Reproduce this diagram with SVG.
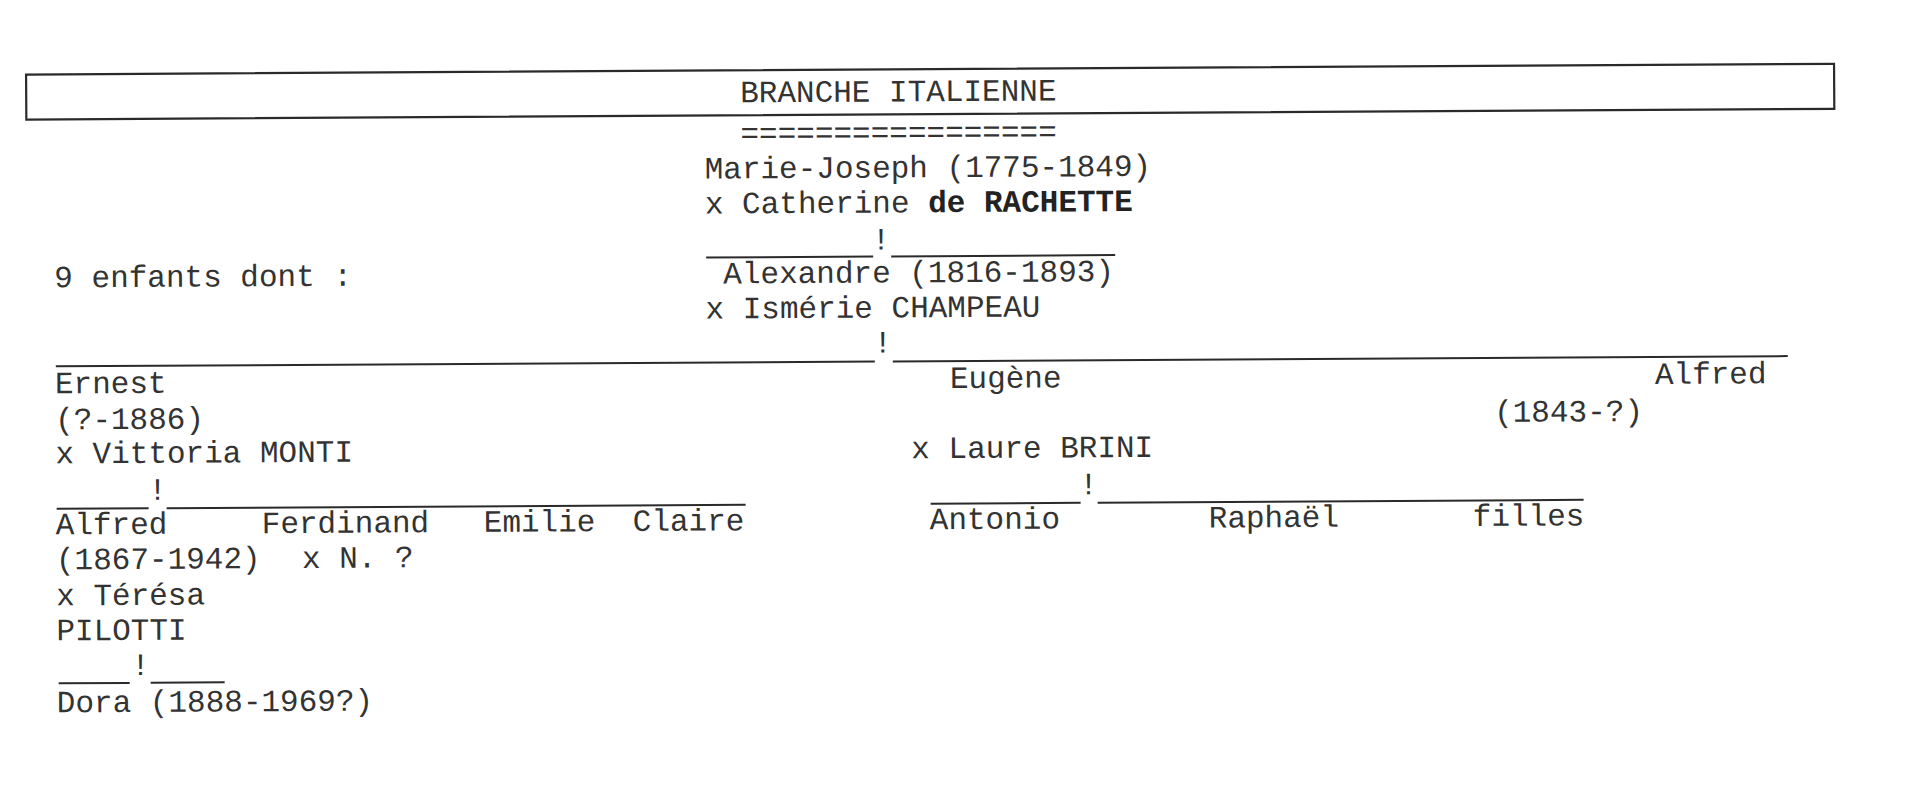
<svg xmlns="http://www.w3.org/2000/svg" width="1920" height="792" viewBox="0 0 1920 792">
<style>
  text { font-family: "Liberation Mono", "Courier New", monospace; font-size: 31px; fill: #333; }
  .b { font-weight: bold; fill: #222; }
  .bang { text-anchor: middle; }
  .ln { stroke: #2a2a2a; stroke-width: 2; fill: none; }
  .box { stroke: #2a2a2a; stroke-width: 2.2; fill: #fff; }
</style>
<rect width="1920" height="792" fill="#fff"/>
<g transform="rotate(-0.34 960 396)">
  <g id="title">
    <rect class="box" x="28" y="69" width="1808" height="45"/>
    <text x="742" y="101">BRANCHE ITALIENNE</text>
    <text x="742" y="142">=================</text>
  </g>
  <g id="n-marie-joseph">
    <text x="706" y="177">Marie-Joseph (1775-1849)</text>
    <text x="706" y="212">x Catherine <tspan class="b">de RACHETTE</tspan></text>
  </g>
  <g id="n-note">
    <text x="55" y="282">9 enfants dont :</text>
  </g>
  <g id="n-alexandre">
    <text x="724" y="282">Alexandre (1816-1893)</text>
    <text x="706" y="317">x Ismérie CHAMPEAU</text>
  </g>
  <g id="n-ernest">
    <text x="55" y="388">Ernest</text>
    <text x="55" y="424">(?-1886)</text>
    <text x="55" y="458">x Vittoria MONTI</text>
  </g>
  <g id="n-eugene">
    <text x="950" y="388">Eugène</text>
    <text x="911" y="458">x Laure BRINI</text>
  </g>
  <g id="n-alfred-1843">
    <text x="1655" y="388">Alfred</text>
    <text x="1494" y="425">(1843-?)</text>
  </g>
  <g id="n-alfred-1867">
    <text x="55" y="529">Alfred</text>
    <text x="55" y="564">(1867-1942)</text>
    <text x="55" y="600">x Térésa</text>
    <text x="55" y="635">PILOTTI</text>
  </g>
  <g id="n-ferdinand">
    <text x="261" y="529">Ferdinand</text>
    <text x="301" y="564">x N. ?</text>
  </g>
  <g id="n-emilie">
    <text x="483" y="529">Emilie</text>
  </g>
  <g id="n-claire">
    <text x="632" y="529">Claire</text>
  </g>
  <g id="n-antonio">
    <text x="929" y="529">Antonio</text>
  </g>
  <g id="n-raphael">
    <text x="1208" y="529">Raphaël</text>
  </g>
  <g id="n-filles">
    <text x="1472" y="529">filles</text>
  </g>
  <g id="n-dora">
    <text x="55" y="707">Dora (1888-1969?)</text>
  </g>
  <g id="connectors">
    <text class="bang" x="882" y="249">!</text>
    <line class="ln" x1="707" y1="256" x2="874" y2="256"/>
    <line class="ln" x1="892" y1="256" x2="1116" y2="256"/>
    <text class="bang" x="883" y="352">!</text>
    <line class="ln" x1="56" y1="361" x2="875" y2="361"/>
    <line class="ln" x1="893" y1="361" x2="1788" y2="361"/>
    <text class="bang" x="157" y="495">!</text>
    <line class="ln" x1="56" y1="503.5" x2="148" y2="503.5"/>
    <line class="ln" x1="166" y1="503.5" x2="745" y2="503.5"/>
    <text class="bang" x="1088" y="495">!</text>
    <line class="ln" x1="930" y1="503.5" x2="1080" y2="503.5"/>
    <line class="ln" x1="1097" y1="503.5" x2="1583" y2="503.5"/>
    <text class="bang" x="139" y="670">!</text>
    <line class="ln" x1="57" y1="678" x2="128" y2="678"/>
    <line class="ln" x1="149" y1="678" x2="223" y2="678"/>
  </g>
</g>
</svg>
